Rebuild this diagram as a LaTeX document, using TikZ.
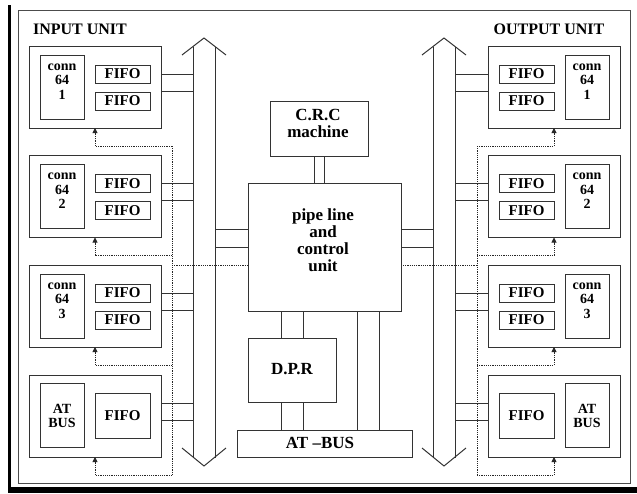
\documentclass[tikz,border=0pt]{standalone}
\usepackage{fontspec}
\setmainfont{Liberation Serif}
\usetikzlibrary{arrows.meta}
\begin{document}
\begin{tikzpicture}[x=1pt,y=-1pt,
  ln/.style={draw=black!80,line width=1pt},
  box/.style={ln,rectangle,inner sep=0pt,outer sep=0pt,fill=white},
  unitbox/.style={box,minimum width=132pt,minimum height=82pt},
  connbox/.style={box,minimum width=44pt,minimum height=64pt},
  fifobox/.style={box,minimum width=55pt,minimum height=18pt,font=\fontsize{15}{15}\selectfont\bfseries},
  bigfifo/.style={fifobox,minimum height=45pt},
  small/.style={font=\fontsize{14}{14.5}\selectfont\bfseries,align=center,inner sep=0pt},
  big/.style={font=\fontsize{17}{17}\selectfont\bfseries,align=center,inner sep=0pt},
  title/.style={font=\fontsize{16}{16}\selectfont\bfseries,inner sep=0pt},
  ctl/.style={draw=black!85,line width=0.9pt,dash pattern=on 1.2pt off 1pt},
  tip/.style={-{Triangle[length=5pt,width=5pt]}}
]
\useasboundingbox (0,0) rectangle (637,493);
% frame
\fill[black] (8,5) rectangle (11,493);
\fill[black] (8,487) rectangle (637,493);
\draw[draw=black!70,line width=0.8pt] (18,10) rectangle (630.5,483.5);

\node[title] (intitle) at (80,29) {INPUT UNIT};
\node[title] (outtitle) at (549,29) {OUTPUT UNIT};

% control (dotted) lines
\coordinate (lctlT) at (172,146);
\coordinate (lctlB) at (172,475);
\coordinate (rctlT) at (477,146);
\coordinate (rctlB) at (477,475);
\draw[ctl] (lctlT) -- (lctlB);
\draw[ctl] (rctlT) -- (rctlB);
\coordinate (lctlM) at (172,265);
\coordinate (rctlM) at (477,265);
\draw[ctl] (lctlM) -- (rctlM);

% buses
\draw[ln] (182,55) -- (204,38) -- (226,55);
\draw[ln] (182,448) -- (204,466) -- (226,448);
\coordinate (lbusL) at (193,46.5);
\coordinate (lbusR) at (215,46.5);
\draw[ln] (lbusL) -- (193,457.5);
\draw[ln] (lbusR) -- (215,457.5);
\draw[ln] (422,55) -- (444,38) -- (466,55);
\draw[ln] (422,448) -- (444,466) -- (466,448);
\coordinate (rbusL) at (433,46.5);
\coordinate (rbusR) at (455,46.5);
\draw[ln] (rbusL) -- (433,457.5);
\draw[ln] (rbusR) -- (455,457.5);

% input units
\foreach \i/\y in {1/87,2/196.5,3/306}{
  \node[unitbox] (in\i) at (95,\y) {};
  \node[connbox] (inc\i) at (62,\y) {};
  \node[small] (inct\i) at (62,\y-5.5) {conn\\64\\\i};
  \node[fifobox] (infa\i) at (122.5,\y-13) {FIFO};
  \node[fifobox] (infb\i) at (122.5,\y+14) {FIFO};
}
\node[unitbox] (in4) at (95,416) {};
\node[connbox] (inc4) at (62,415.5) {};
\node[small] (inct4) at (62,416) {AT\\BUS};
\node[bigfifo] (inf4) at (122.5,415.5) {FIFO};
\foreach \i in {1,2,3,4}{
  \draw[ln] ([yshift=13pt]in\i.east) -- ([yshift=13pt]in\i.east -| lbusL);
  \draw[ln] ([yshift=-4pt]in\i.east) -- ([yshift=-4pt]in\i.east -| lbusL);
  \draw[ctl,tip] ([yshift=-18pt]in\i.south -| lctlT) -- ([yshift=-18pt]in\i.south) -- (in\i.south);
}

% output units
\foreach \i/\y in {1/87,2/196.5,3/306}{
  \node[unitbox] (out\i) at (554,\y) {};
  \node[connbox] (outc\i) at (587,\y) {};
  \node[small] (outct\i) at (587,\y-5.5) {conn\\64\\\i};
  \node[fifobox] (outfa\i) at (526.5,\y-13) {FIFO};
  \node[fifobox] (outfb\i) at (526.5,\y+14) {FIFO};
}
\node[unitbox] (out4) at (554,416) {};
\node[connbox] (outc4) at (587,415.5) {};
\node[small] (outct4) at (587,416) {AT\\BUS};
\node[bigfifo] (outf4) at (526.5,415.5) {FIFO};
\foreach \i in {1,2,3,4}{
  \draw[ln] ([yshift=13pt]out\i.west) -- ([yshift=13pt]out\i.west -| rbusR);
  \draw[ln] ([yshift=-4pt]out\i.west) -- ([yshift=-4pt]out\i.west -| rbusR);
  \draw[ctl,tip] ([yshift=-18pt]out\i.south -| rctlT) -- ([yshift=-18pt]out\i.south) -- (out\i.south);
}

% centre
\node[box,minimum width=98pt,minimum height=55pt] (crc) at (319,128.5) {};
\node[big] (crct) at (318,123) {C.R.C\\machine};
\node[box,minimum width=153pt,minimum height=128pt] (pipe) at (324.5,247) {};
\node[big] (pipet) at (323,240.5) {pipe line\\and\\control\\unit};
\node[box,minimum width=88pt,minimum height=64pt] (dpr) at (292,370) {};
\node[big] (dprt) at (292,369) {D.P.R};
\node[box,minimum width=175pt,minimum height=27pt] (atbus) at (324.5,443.5) {};
\node[big] (atbust) at (320,443) {AT --BUS};

\draw[ln] ([xshift=-5pt]crc.south) -- ([xshift=-5pt]crc.south |- pipe.north);
\draw[ln] ([xshift=5pt]crc.south) -- ([xshift=5pt]crc.south |- pipe.north);
\draw[ln] ([yshift=18pt]pipe.west) -- ([yshift=18pt]pipe.west -| lbusR);
\draw[ln] (pipe.west) -- (pipe.west -| lbusR);
\draw[ln] ([yshift=18pt]pipe.east) -- ([yshift=18pt]pipe.east -| rbusL);
\draw[ln] (pipe.east) -- (pipe.east -| rbusL);
\draw[ln] ([xshift=-11pt]dpr.north) -- ([xshift=-11pt]dpr.north |- pipe.south);
\draw[ln] ([xshift=11pt]dpr.north) -- ([xshift=11pt]dpr.north |- pipe.south);
\draw[ln] ([xshift=-11pt]dpr.south) -- ([xshift=-11pt]dpr.south |- atbus.north);
\draw[ln] ([xshift=11pt]dpr.south) -- ([xshift=11pt]dpr.south |- atbus.north);
\draw[ln] ([xshift=32.5pt]pipe.south) -- ([xshift=32.5pt]pipe.south |- atbus.north);
\draw[ln] ([xshift=54.5pt]pipe.south) -- ([xshift=54.5pt]pipe.south |- atbus.north);
\end{tikzpicture}
\end{document}
